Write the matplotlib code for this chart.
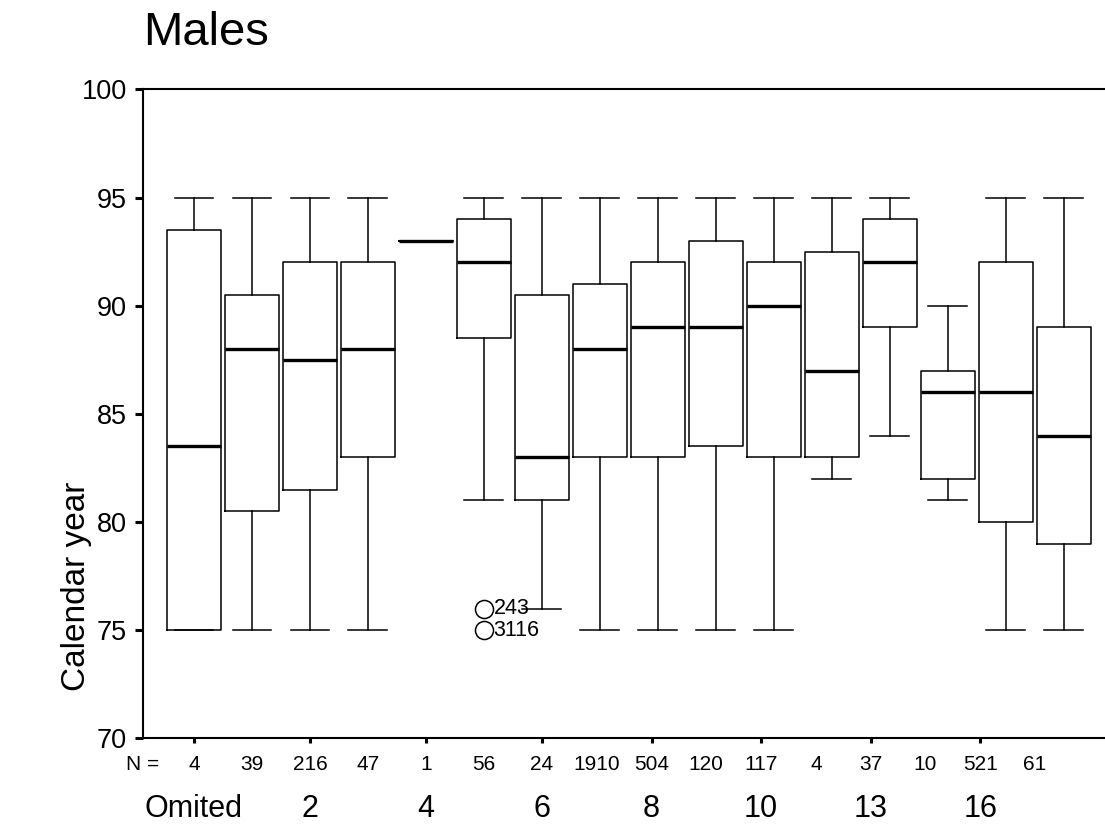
import matplotlib.pyplot as plt

plt.rcParams['font.family'] = ['Liberation Sans', 'DejaVu Sans']

# calendar year by group, one box per group
n_counts = [4, 39, 216, 47, 1, 56, 24, 1910, 504, 120, 117, 4, 37, 10, 521, 61]
whis_lo = [75, 75, 75, 75, 93, 81, 76, 75, 75, 75, 75, 82, 84, 81, 75, 75]
q1 = [75, 80.5, 81.5, 83, 93, 88.5, 81, 83, 83, 83.5, 83, 83, 89, 82, 80, 79]
median = [83.5, 88, 87.5, 88, 93, 92, 83, 88, 89, 89, 90, 87, 92, 86, 86, 84]
q3 = [93.5, 90.5, 92, 92, 93, 94, 90.5, 91, 92, 93, 92, 92.5, 94, 87, 92, 89]
whis_hi = [95, 95, 95, 95, 93, 95, 95, 95, 95, 95, 95, 95, 95, 90, 95, 95]

# outlying cases (group index, value, case id)
outlier_group = 6
outlier_vals = [76, 75]
outlier_ids = ["243", "3116"]

cat_labels = ["Omited", "2", "4", "6", "8", "10", "13", "16"]

positions = list(range(1, len(n_counts) + 1))
stats = []
for i in range(len(n_counts)):
    stats.append({
        "med": median[i], "q1": q1[i], "q3": q3[i],
        "whislo": whis_lo[i], "whishi": whis_hi[i],
        "fliers": outlier_vals if positions[i] == outlier_group else [],
    })

fig = plt.figure(figsize=(11.05, 8.24), dpi=100)
ax = fig.add_axes([0.1291, 0.1038, 0.8709, 0.7878])

line = dict(color="black", linewidth=1.1)
ax.bxp(stats, positions=positions, widths=0.93, capwidths=0.67,
       boxprops=line, whiskerprops=line, capprops=line,
       medianprops=dict(color="black", linewidth=2.4),
       flierprops=dict(marker="o", markerfacecolor="none",
                       markeredgecolor="black", markersize=13,
                       markeredgewidth=1.1))

for v, cid in zip(outlier_vals, outlier_ids):
    ax.annotate(cid, (outlier_group, v), xytext=(7, 0),
                textcoords="offset points", va="center", ha="left",
                fontsize=15.5)

ax.set_xlim(0.1155, 16.71)
ax.set_ylim(70, 100)
ax.set_yticks(range(70, 101, 5))
ax.tick_params(axis="y", direction="out", length=5.5, width=2.2,
               labelsize=19.5, pad=6)

# N row and group labels drift slightly left of the boxes to the right
label_x = [p if p <= 7 else 7 + (p - 7) * 0.945 for p in positions]
ax.set_xticks(label_x[::2])
ax.set_xticklabels([])
ax.tick_params(axis="x", direction="out", length=3.5, width=2.2)

tr = ax.get_xaxis_transform()
ax.text(0.0, -0.0485, "N =", transform=ax.transAxes, ha="center",
        va="baseline", fontsize=15)
for x, n in zip(label_x, n_counts):
    ax.text(x, -0.0485, str(n), transform=tr, ha="center",
            va="baseline", fontsize=15)
for x, lab in zip(label_x[::2], cat_labels):
    ax.text(x, -0.121, lab, transform=tr, ha="center",
            va="baseline", fontsize=22)

ax.spines["right"].set_visible(False)
for s in ["left", "top", "bottom"]:
    ax.spines[s].set_linewidth(1.5)

fig.text(0.1291, 0.9454, "Males", ha="left", va="baseline", fontsize=34)
fig.text(0.0696, 0.288, "Calendar year", rotation=90, ha="center",
         va="center", fontsize=24)

fig.savefig("out.png", dpi=100)
plt.close(fig)
